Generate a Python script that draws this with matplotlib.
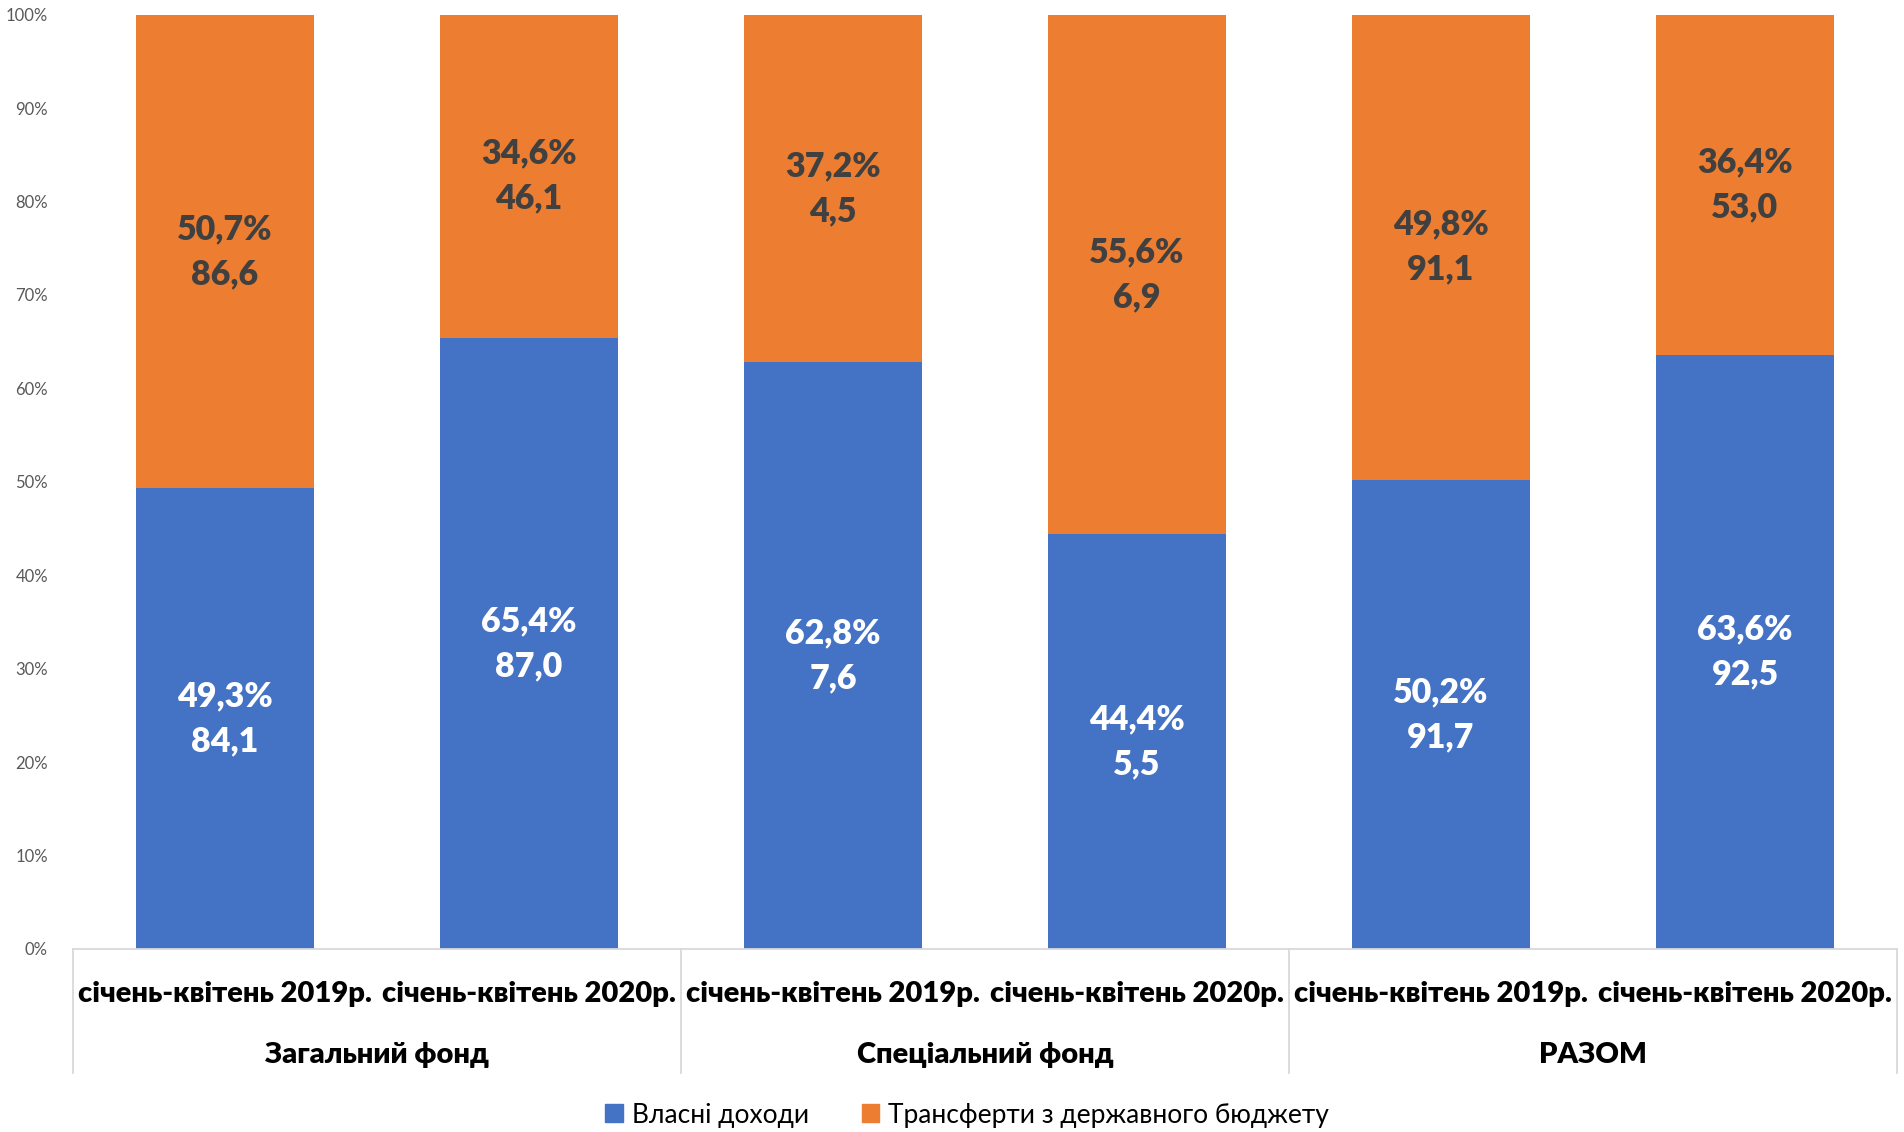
import numpy as np
import matplotlib
matplotlib.use("Agg")
import matplotlib.pyplot as plt
import matplotlib.transforms as mtransforms
from matplotlib.patches import Patch

# ------------------------------------------------------------
# Data
# ------------------------------------------------------------
periods = ["січень-квітень 2019р.", "січень-квітень 2020р."] * 3
groups = ["Загальний фонд", "Спеціальний фонд", "РАЗОМ"]

own_pct = [49.3, 65.4, 62.8, 44.4, 50.2, 63.6]
own_abs = [84.1, 87.0, 7.6, 5.5, 91.7, 92.5]
transfer_pct = [50.7, 34.6, 37.2, 55.6, 49.8, 36.4]
transfer_abs = [86.6, 46.1, 4.5, 6.9, 91.1, 53.0]

series_names = ["Власні доходи", "Трансферти з державного бюджету"]
blue = "#4472C4"
orange = "#ED7D31"

plt.rcParams['font.family'] = ['Lato', 'DejaVu Sans']


def fmt(v, pct=False):
    s = "{:.1f}".format(v).replace(".", ",")
    return s + "%" if pct else s


# ------------------------------------------------------------
# Plot
# ------------------------------------------------------------
fig = plt.figure(figsize=(19.04, 11.32), dpi=100)
ax = fig.add_axes([0.0383, 0.1617, 0.958, 0.8253])

x = np.arange(len(periods))
own = np.array(own_pct)
tr = np.array(transfer_pct)
bw = 0.587

ax.bar(x, own, bw, color=blue, label=series_names[0])
ax.bar(x, tr, bw, bottom=own, color=orange, label=series_names[1])

# data labels in the middle of each segment
for i in range(len(x)):
    ax.text(x[i], own[i] / 2, fmt(own_pct[i], True) + "\n" + fmt(own_abs[i]),
            ha="center", va="center", color="white", fontsize=24.5,
            fontweight="heavy", linespacing=1.5)
    ax.text(x[i], own[i] + tr[i] / 2,
            fmt(transfer_pct[i], True) + "\n" + fmt(transfer_abs[i]),
            ha="center", va="center", color="#404040", fontsize=24.5,
            fontweight="heavy", linespacing=1.5)

ax.set_xlim(-0.5, len(x) - 0.5)
ax.set_ylim(0, 100)
ax.set_yticks(np.arange(0, 101, 10))
ax.set_yticklabels(["{}%".format(v) for v in range(0, 101, 10)])
ax.tick_params(axis="y", length=0, pad=18, labelsize=12, labelcolor="#595959")
ax.set_xticks([])
for side in ["top", "right", "left"]:
    ax.spines[side].set_visible(False)
ax.spines["bottom"].set_color("#D9D9D9")
ax.spines["bottom"].set_linewidth(1.3)

# two-level category axis
trans = mtransforms.blended_transform_factory(ax.transData, ax.transAxes)
for i, p in enumerate(periods):
    ax.text(x[i], -0.048, p, transform=trans, ha="center", va="center",
            fontsize=21, fontweight="heavy", color="black")
for g, name in enumerate(groups):
    ax.text(2 * g + 0.5, -0.114, name, transform=trans, ha="center",
            va="center", fontsize=21, fontweight="heavy", color="black")
for b in [-0.5, 1.5, 3.5, 5.5]:
    ax.plot([b, b], [0, -0.133], transform=trans, color="#D9D9D9",
            lw=1.3, clip_on=False)

handles = [Patch(color=blue), Patch(color=orange)]
fig.legend(handles, series_names, loc="center", bbox_to_anchor=(0.508, 0.015),
           ncol=2, frameon=False, fontsize=19, handlelength=0.65,
           handleheight=0.65, handletextpad=0.35, columnspacing=2.0)

fig.savefig("out.png", dpi=100)
